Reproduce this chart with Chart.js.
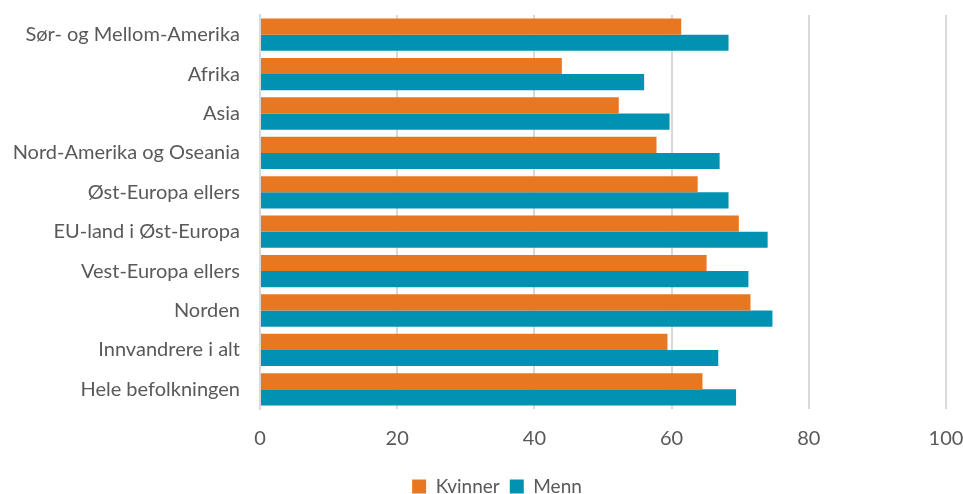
<!DOCTYPE html>
<html>
<head>
<meta charset="utf-8">
<script src="https://cdn.jsdelivr.net/npm/chart.js@4"></script>
<style>
    html, body { margin: 0; padding: 0; background: #fff; }
    #wrap { width: 963px; height: 494px; }
</style>
</head>
<body>
<div id="wrap"><canvas id="chart" width="963" height="494"></canvas></div>
<script>
const regions = [
    'Sør- og Mellom-Amerika',
    'Afrika',
    'Asia',
    'Nord-Amerika og Oseania',
    'Øst-Europa ellers',
    'EU-land i Øst-Europa',
    'Vest-Europa ellers',
    'Norden',
    'Innvandrere i alt',
    'Hele befolkningen'
];
const kvinner = [61.4, 44.0, 52.3, 57.8, 63.8, 69.8, 65.1, 71.5, 59.4, 64.5];
const menn = [68.3, 56.0, 59.7, 67.0, 68.3, 74.0, 71.2, 74.7, 66.8, 69.4];
const xTicks = [0, 20, 40, 60, 80, 100];

const FONT = "Lato, sans-serif";
const TEXT = '#595959';
const GRID = '#d9d9d9';

// nudge the legend a bit to the right of the canvas centre
const legendShift = {
    id: 'legendShift',
    afterLayout(chart) {
        if (chart.legend) {
            chart.legend.left += 24;
            chart.legend.right += 24;
        }
    }
};

const ctx = document.getElementById('chart').getContext('2d');

new Chart(ctx, {
    type: 'bar',
    data: {
        labels: regions,
        datasets: [
            {
                label: 'Kvinner',
                data: kvinner,
                backgroundColor: '#e87722',
                categoryPercentage: 0.82,
                barPercentage: 1
            },
            {
                label: 'Menn',
                data: menn,
                backgroundColor: '#0092b0',
                categoryPercentage: 0.82,
                barPercentage: 1
            }
        ]
    },
    options: {
        indexAxis: 'y',
        responsive: false,
        animation: false,
        layout: {
            padding: { top: 15, right: 17, left: 0, bottom: -12 }
        },
        scales: {
            x: {
                min: 0,
                max: 100,
                afterBuildTicks: function(scale) {
                    scale.ticks = xTicks.map(v => ({ value: v }));
                },
                afterFit: function(scale) {
                    scale.height = 58;
                    scale.paddingLeft = 0;
                    scale.paddingRight = 0;
                },
                grid: {
                    color: GRID,
                    lineWidth: 2,
                    drawTicks: false
                },
                border: { display: false },
                ticks: {
                    padding: 18,
                    color: TEXT,
                    font: { family: FONT, size: 20 }
                }
            },
            y: {
                afterFit: function(scale) {
                    scale.width = 260;
                    scale.paddingTop = 0;
                    scale.paddingBottom = 0;
                },
                grid: { display: false, drawTicks: false },
                border: { color: GRID, width: 2 },
                ticks: {
                    padding: 20,
                    color: TEXT,
                    font: { family: FONT, size: 20 }
                }
            }
        },
        plugins: {
            legend: {
                position: 'bottom',
                labels: {
                    boxWidth: 14,
                    boxHeight: 14,
                    padding: 10,
                    color: TEXT,
                    font: { family: FONT, size: 19 }
                }
            },
            tooltip: { enabled: false }
        }
    },
    plugins: [legendShift]
});
</script>
</body>
</html>
